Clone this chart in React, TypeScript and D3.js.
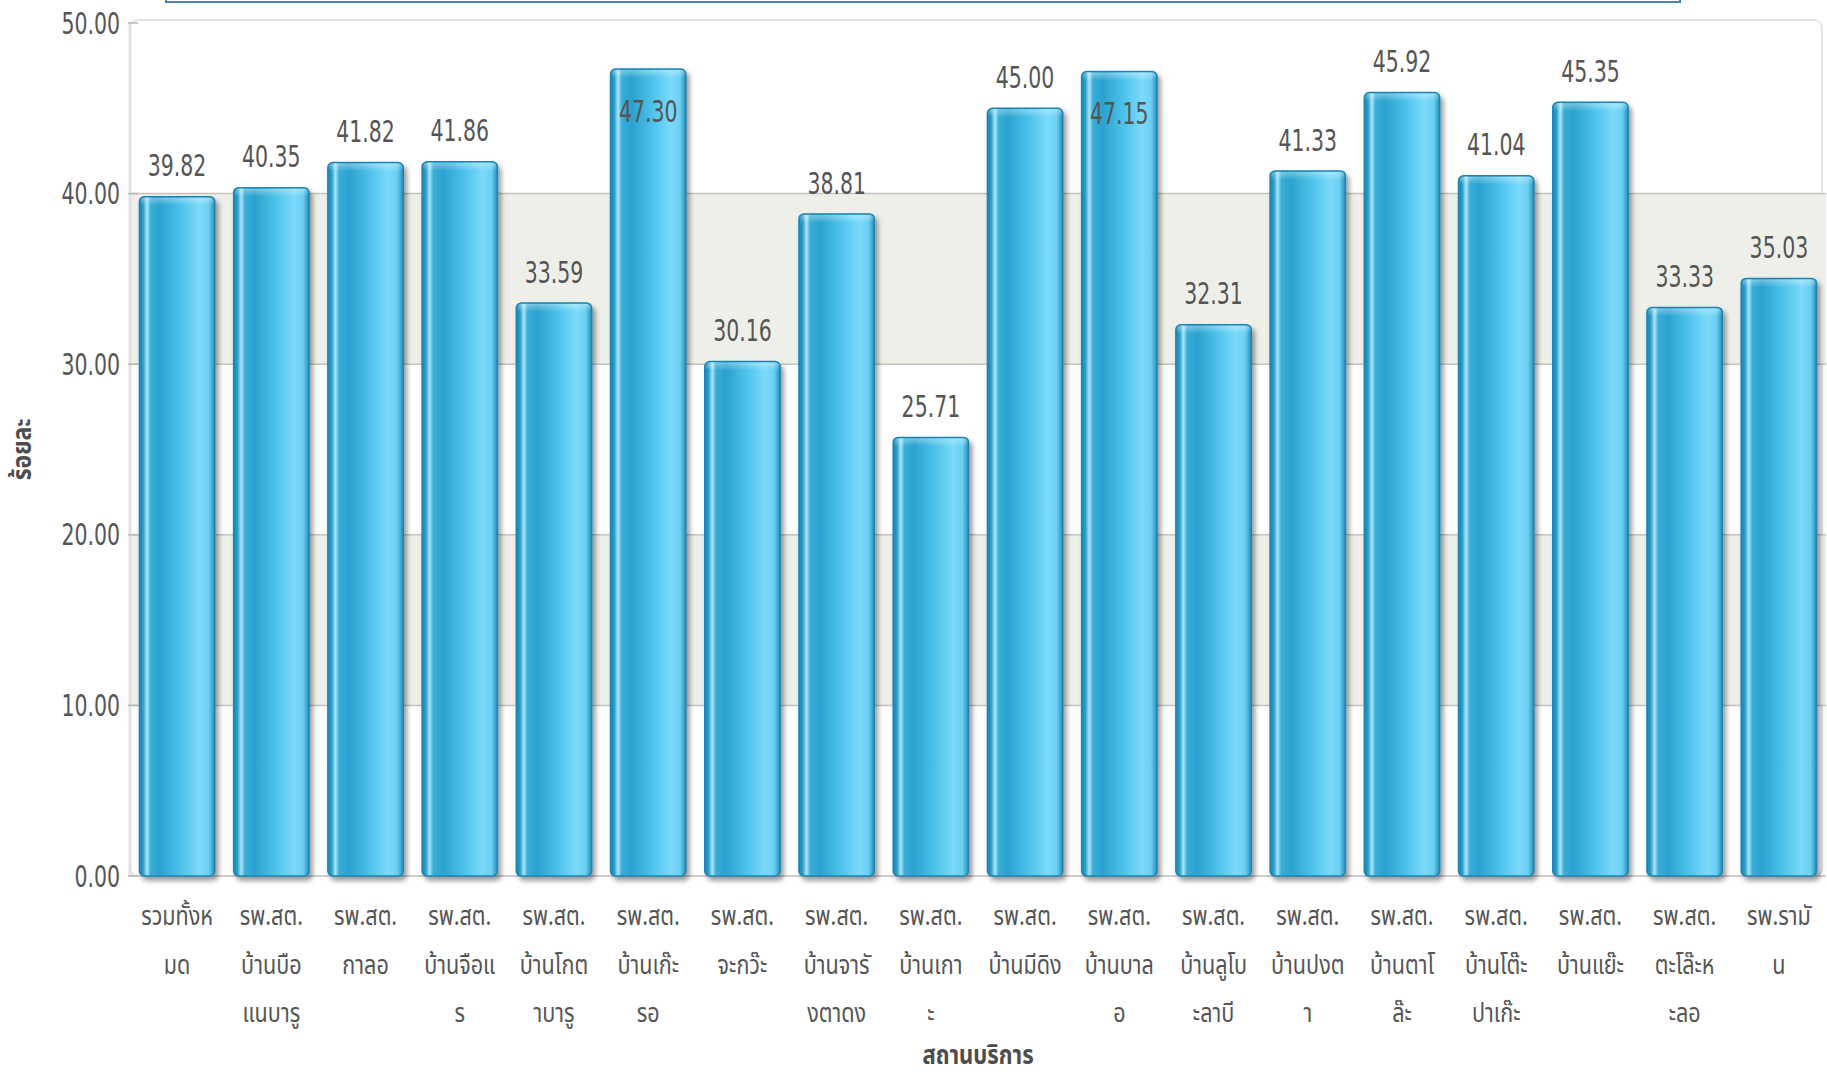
import React from 'react';
import * as d3 from 'd3';

const categoryLines: string[][] = [
  ["รวมทั้งห", "มด"],
  ["รพ.สต.", "บ้านบือ", "แนบารู"],
  ["รพ.สต.", "กาลอ"],
  ["รพ.สต.", "บ้านจือแ", "ร"],
  ["รพ.สต.", "บ้านโกต", "าบารู"],
  ["รพ.สต.", "บ้านเก๊ะ", "รอ"],
  ["รพ.สต.", "จะกว๊ะ"],
  ["รพ.สต.", "บ้านจารั", "งตาดง"],
  ["รพ.สต.", "บ้านเกา", "ะ"],
  ["รพ.สต.", "บ้านมีดิง"],
  ["รพ.สต.", "บ้านบาล", "อ"],
  ["รพ.สต.", "บ้านลูโบ", "ะลาบี"],
  ["รพ.สต.", "บ้านปงต", "า"],
  ["รพ.สต.", "บ้านตาโ", "ล๊ะ"],
  ["รพ.สต.", "บ้านโต๊ะ", "ปาเก๊ะ"],
  ["รพ.สต.", "บ้านแย๊ะ"],
  ["รพ.สต.", "ตะโล๊ะห", "ะลอ"],
  ["รพ.รามั", "น"],
];

const values: number[] = [
  39.82, 40.35, 41.82, 41.86, 33.59, 47.30, 30.16, 38.81, 25.71,
  45.00, 47.15, 32.31, 41.33, 45.92, 41.04, 45.35, 33.33, 35.03,
];

const yTicks: number[] = [0, 10, 20, 30, 40, 50];
const yAxisTitle = "ร้อยละ";
const xAxisTitle = "สถานบริการ";

const NUM_FONT = "Tahoma, 'DejaVu Sans', sans-serif";
const THAI_FONT = "Tahoma, 'Noto Sans Thai', Loma, Garuda, 'DejaVu Sans', sans-serif";

export default function App() {
  const W = 1827;
  const H = 1076;
  const plotLeft = 130;
  const plotRight = 1826;
  const plotTop = 23;
  const plotBottom = 876;

  const x = d3
    .scaleBand<number>()
    .domain(d3.range(values.length))
    .range([plotLeft, plotRight])
    .paddingInner(0.2)
    .paddingOuter(0.1);
  const y = d3.scaleLinear().domain([0, 50]).range([plotBottom, plotTop]);
  const fmt = d3.format('.2f');

  const bands: [number, number][] = [];
  for (let i = 1; i < yTicks.length - 1; i += 2) bands.push([yTicks[i], yTicks[i + 1]]);

  const bw = x.bandwidth();

  return (
    <svg width={W} height={H} style={{ position: 'absolute', left: 0, top: 0, background: '#fff' }}>
      <defs>
        <linearGradient id="barGrad" x1="0" y1="0" x2="1" y2="0">
          <stop offset="0%" stopColor="#1a84b1" />
          <stop offset="5%" stopColor="#2b9ecb" />
          <stop offset="10%" stopColor="#a9e6f8" />
          <stop offset="15%" stopColor="#38acd7" />
          <stop offset="28%" stopColor="#2ba2cf" />
          <stop offset="55%" stopColor="#4cc2ea" />
          <stop offset="80%" stopColor="#7bdafb" />
          <stop offset="92%" stopColor="#6bcff2" />
          <stop offset="100%" stopColor="#238dbb" />
        </linearGradient>
        <linearGradient id="barTop" x1="0" y1="0" x2="0" y2="1">
          <stop offset="0%" stopColor="#ffffff" stopOpacity={0.35} />
          <stop offset="100%" stopColor="#ffffff" stopOpacity={0} />
        </linearGradient>
        <filter id="shadow" x="-20%" y="-5%" width="140%" height="115%">
          <feDropShadow dx="3" dy="4" stdDeviation="2.5" floodColor="#000" floodOpacity="0.4" />
        </filter>
      </defs>

      {/* top (cut off) title box */}
      <rect x={166} y={-20} width={1514} height={22} fill="none" stroke="#4f7fc0" strokeWidth={2} />

      {/* plot background */}
      <rect x={plotLeft} y={plotTop - 3} width={plotRight - plotLeft - 4} height={plotBottom - plotTop + 3} rx={8} fill="#fff" stroke="#e6e6e6" strokeWidth={2} />
      {bands.map(([a, b], i) => (
        <rect key={i} x={plotLeft} y={y(b)} width={plotRight - plotLeft} height={y(a) - y(b)} fill="#efefe9" />
      ))}
      {yTicks.slice(0, -1).map((t) => (
        <line key={t} x1={plotLeft} x2={plotRight} y1={y(t)} y2={y(t)} stroke="#c4c4c0" strokeWidth={1.5} />
      ))}
      <line x1={plotLeft} x2={plotLeft} y1={plotTop} y2={plotBottom} stroke="#e2e2de" strokeWidth={3} />
      {yTicks.map((t) => (
        <line key={'tk' + t} x1={plotLeft - 2} x2={plotLeft + 8} y1={y(t)} y2={y(t)} stroke="#b8b8b4" strokeWidth={1.5} />
      ))}

      {/* y tick labels */}
      {yTicks.map((t) => (
        <text key={'yl' + t} transform={`translate(${120},${y(t)}) scale(0.66,1)`} textAnchor="end" dominantBaseline="central" fontFamily={NUM_FONT} fontSize={31} fill="#555">
          {fmt(t)}
        </text>
      ))}

      {/* bars */}
      {values.map((v, i) => {
        const bx = x(i)!;
        const by = y(v);
        const h = plotBottom - by;
        return (
          <g key={'b' + i}>
            <rect x={bx} y={by} width={bw} height={h} rx={5} fill="url(#barGrad)" stroke="#1c85b3" strokeWidth={1.5} filter="url(#shadow)" />
            <rect x={bx + 1} y={by + 1} width={bw - 2} height={8} rx={4} fill="url(#barTop)" />
          </g>
        );
      })}

      {/* value labels */}
      {values.map((v, i) => {
        const cx = x(i)! + bw / 2;
        let cy = y(v) - 31;
        if (cy - 14 < plotTop + 12) cy = y(v) + 42;
        return (
          <text key={'v' + i} transform={`translate(${cx},${cy}) scale(0.66,1)`} textAnchor="middle" dominantBaseline="central" fontFamily={NUM_FONT} fontSize={31} fill="#555">
            {fmt(v)}
          </text>
        );
      })}

      {/* x labels */}
      {categoryLines.map((lines, i) => {
        const cx = x(i)! + bw / 2;
        return (
          <g key={'xl' + i}>
            {lines.map((ln, j) => (
              <text key={j} transform={`translate(${cx},${925 + j * 48.5}) scale(0.8,1)`} textAnchor="middle" fontFamily={THAI_FONT} fontSize={27} fill="#555">
                {ln}
              </text>
            ))}
          </g>
        );
      })}

      {/* axis titles */}
      <text transform={`translate(${(plotLeft + plotRight) / 2},${1064}) scale(0.85,1)`} textAnchor="middle" fontFamily={THAI_FONT} fontSize={26} fontWeight="bold" fill="#4d4d4d">
        {xAxisTitle}
      </text>
      <text transform={`translate(${31},${(plotTop + plotBottom) / 2}) rotate(-90) scale(0.85,1)`} textAnchor="middle" fontFamily={THAI_FONT} fontSize={27} fontWeight="bold" fill="#4d4d4d">
        {yAxisTitle}
      </text>
    </svg>
  );
}
